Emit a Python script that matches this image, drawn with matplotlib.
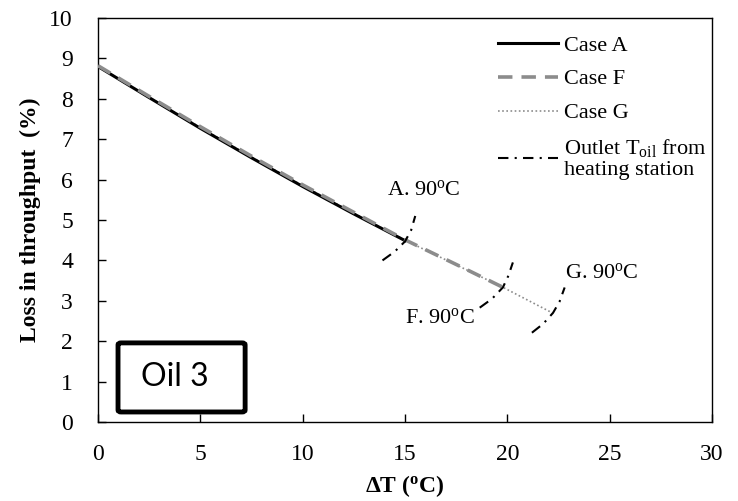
import matplotlib
matplotlib.use("Agg")
import matplotlib.pyplot as plt
from matplotlib.patches import FancyBboxPatch

plt.rcParams['font.family'] = ['Liberation Serif', 'DejaVu Serif']
plt.rcParams['mathtext.fontset'] = 'custom'
plt.rcParams['mathtext.rm'] = 'Liberation Serif'
plt.rcParams['mathtext.it'] = 'Liberation Serif:italic'
plt.rcParams['mathtext.bf'] = 'Liberation Serif:bold'

# Data
case_a_x = [0, 2.5, 5, 7.5, 10, 12.5, 15]
case_a_y = [8.8, 8.03, 7.27, 6.54, 5.83, 5.15, 4.49]
case_f_x = [0, 2.5, 5, 7.5, 10, 12.5, 15, 17.5, 19.8]
case_f_y = [8.82, 8.06, 7.31, 6.58, 5.87, 5.19, 4.51, 3.90, 3.33]
case_g_x = [0, 2.5, 5, 7.5, 10, 12.5, 15, 17.5, 19.8, 22.2]
case_g_y = [8.8, 8.04, 7.29, 6.56, 5.85, 5.17, 4.50, 3.89, 3.33, 2.70]
outlet_a_x = [13.9, 14.5, 15.0, 15.3, 15.5]
outlet_a_y = [4.00, 4.22, 4.47, 4.75, 5.10]
outlet_f_x = [18.65, 19.25, 19.78, 20.05, 20.27]
outlet_f_y = [2.83, 3.05, 3.33, 3.62, 3.95]
outlet_g_x = [21.2, 21.75, 22.23, 22.55, 22.8]
outlet_g_y = [2.21, 2.43, 2.70, 2.98, 3.33]
labels = ["A. 90$^{\\rm o}$C", "F. 90$^{\\rm o}$C", "G. 90$^{\\rm o}$C"]
label_pos = [(15.9, 5.75), (16.7, 2.58), (24.6, 3.7)]
xticks = [0, 5, 10, 15, 20, 25, 30]
yticks = list(range(0, 11))

fig = plt.figure(figsize=(7.38, 5.01), dpi=100)
ax = fig.add_axes([0.1328, 0.1577, 0.8320, 0.8063])

dashdot = (0, (5, 3, 1, 3))
ax.plot(case_g_x, case_g_y, color='#8c8c8c', lw=1.2, ls=(0, (1, 1.5)), label='Case G', zorder=2)
ax.plot(case_a_x, case_a_y, color='black', lw=2.2, ls='-', label='Case A', zorder=3)
ax.plot(case_f_x, case_f_y, color='#8c8c8c', lw=2.6, ls=(0, (4, 2.5)), label='Case F', zorder=4)
ax.plot(outlet_a_x, outlet_a_y, color='black', lw=1.5, ls=dashdot,
        label='Outlet T$_{\\rm oil}$ from\nheating station', zorder=5)
ax.plot(outlet_f_x, outlet_f_y, color='black', lw=1.5, ls=dashdot, zorder=5)
ax.plot(outlet_g_x, outlet_g_y, color='black', lw=1.5, ls=dashdot, zorder=5)

for t, (x, y) in zip(labels, label_pos):
    ax.text(x, y, t, fontsize=16, ha='center', va='center')

ax.set_xlim(0, 30)
ax.set_ylim(0, 10)
ax.set_xticks(xticks)
ax.set_yticks(yticks)
ax.tick_params(axis='both', direction='in', length=6, width=1, labelsize=17, top=False, right=False)
ax.tick_params(axis='x', pad=16)
ax.tick_params(axis='y', pad=18)
for s in ax.spines.values():
    s.set_linewidth(1)
    s.set_color('black')

ax.set_xlabel("ΔT ($^{\\bf o}$C)", fontsize=17, fontweight='bold', labelpad=6)
ax.set_ylabel("Loss in throughput  (%)", fontsize=17, fontweight='bold', labelpad=6)

handles, labs = ax.get_legend_handles_labels()
order = ['Case A', 'Case F', 'Case G', labs[3]]
hmap = dict(zip(labs, handles))
leg = ax.legend([hmap[o] for o in order], order, loc='upper left', frameon=False,
                fontsize=16, handlelength=2.7, handletextpad=0.25, labelspacing=0.6,
                bbox_to_anchor=(0.637, 0.98), borderaxespad=0)

box = FancyBboxPatch((0.0326, 0.0248), 0.207, 0.171, transform=ax.transAxes,
                     boxstyle='round,pad=0,rounding_size=0.005', fc='white', ec='black',
                     lw=3.5, zorder=6)
ax.add_patch(box)
ax.text(0.125, 0.0248 + 0.171 / 2, "Oil 3", transform=ax.transAxes,
        fontsize=23, family=['Lato', 'DejaVu Sans'], ha='center', va='center', zorder=7)

fig.savefig('out.png', dpi=100)
